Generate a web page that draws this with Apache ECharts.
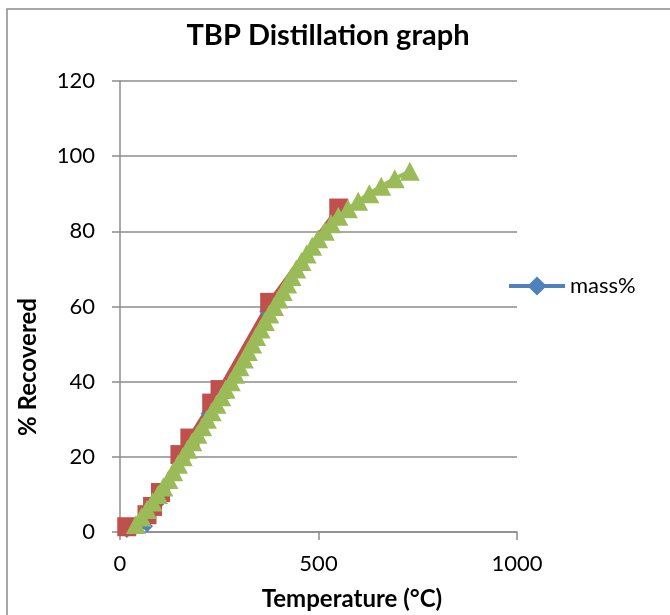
<!DOCTYPE html>
<html>
<head>
<meta charset="utf-8">
<script src="https://cdn.jsdelivr.net/npm/echarts@6/dist/echarts.min.js"></script>
<style>
html,body{margin:0;padding:0;background:#fff;}
#chart{width:670px;height:615px;}
</style>
</head>
<body>
<div id="chart"></div>
<script>
// ---- data ----
const chartTitle = 'TBP Distillation graph';
const xAxisTitle = 'Temperature (°C)';
const yAxisTitle = '% Recovered';
const legendName = 'mass%';

// blue series (mass%), mostly hidden under the others
const massTemp = [17, 68, 82, 102, 151, 176, 218, 252, 366, 551];
const massPct  = [0, 1.5, 5, 8, 18, 22, 31.5, 36, 58.6, 84];

// red squares
const redTemp = [17, 68, 82, 102, 151, 176, 231, 252, 377, 551];
const redPct  = [1.4, 4.6, 6.8, 10.5, 20.6, 25, 34.3, 37.9, 61.1, 86.2];

// green triangles
const greenTemp = [40, 54, 68, 82, 96, 109, 122, 134, 146, 158, 170, 182, 195, 207, 219, 231,
                   243, 255, 266, 279, 290, 301, 312, 322, 333, 343, 354, 365, 376, 388, 399, 410,
                   421, 432, 444, 457, 470, 484, 499, 516, 532, 550, 574, 600, 628, 658, 692, 730];
const greenPct  = [2, 4, 6, 8, 10, 12, 14, 16, 18, 20, 22, 24, 26, 28, 30, 32,
                   34, 36, 38, 40, 42, 44, 46, 48, 50, 52, 54, 56, 58, 60, 62, 64,
                   66, 68, 70, 72, 74, 76, 78, 80, 82, 84, 86, 88, 90, 92, 94, 96];

const xTicks = [0, 500, 1000];
const yTicks = [0, 20, 40, 60, 80, 100, 120];

const zip = (a, b) => a.map((v, i) => [v, b[i]]);

const FONT = 'Lato';
const chart = echarts.init(document.getElementById('chart'));
chart.setOption({
  animation: false,
  backgroundColor: '#fff',
  textStyle: { fontFamily: FONT },
  grid: { left: 120, right: 153, top: 81, bottom: 83, containLabel: false },
  legend: {
    data: [legendName],
    left: 507, top: 275, padding: 0,
    itemWidth: 56, itemHeight: 24,
    lineStyle: { width: 4, color: '#4F81BD' },
    itemStyle: { color: '#4F81BD' },
    textStyle: { fontFamily: FONT, fontSize: 22, color: '#000' }
  },
  xAxis: {
    type: 'value', min: xTicks[0], max: xTicks[xTicks.length-1], interval: 500,
    axisLine: { show: true, lineStyle: { color: '#8c8c8c', width: 1.5 } },
    axisTick: { show: true, length: 8, lineStyle: { color: '#8c8c8c', width: 1.5 } },
    axisLabel: { fontFamily: FONT, fontSize: 22, color: '#000', margin: 21,
                 formatter: v => String(v) },
    splitLine: { show: false }
  },
  yAxis: {
    type: 'value', min: yTicks[0], max: yTicks[yTicks.length-1], interval: 20,
    axisLine: { show: true, lineStyle: { color: '#8c8c8c', width: 1.5 } },
    axisTick: { show: true, length: 8, lineStyle: { color: '#8c8c8c', width: 1.5 } },
    axisLabel: { fontFamily: FONT, fontSize: 22, color: '#000', margin: 25,
                 formatter: v => String(v) },
    splitLine: { show: true, lineStyle: { color: '#8c8c8c', width: 1.5 } }
  },
  graphic: [
    { type: 'rect', silent: true, z: -10,
      shape: { x: 7, y: 9, width: 720, height: 700 },
      style: { fill: 'none', stroke: '#8c8c8c', lineWidth: 1.5 } },
    { type: 'text', x: 328, y: 36,
      style: { text: chartTitle, font: 'bold 29px Lato', fill: '#000', textAlign: 'center', textVerticalAlign: 'middle' } },
    { type: 'text', x: 352, y: 599,
      style: { text: xAxisTitle, font: 'bold 24px Lato', fill: '#000', textAlign: 'center', textVerticalAlign: 'middle' } },
    { type: 'text', x: 28, y: 367, rotation: Math.PI / 2,
      style: { text: yAxisTitle, font: 'bold 24px Lato', fill: '#000', textAlign: 'center', textVerticalAlign: 'middle' } }
  ],
  series: [
    { name: legendName, type: 'line', data: zip(massTemp, massPct),
      symbol: 'diamond', symbolSize: 12, showAllSymbol: true,
      lineStyle: { color: '#4F81BD', width: 4 },
      itemStyle: { color: '#4F81BD' } },
    { name: 'red', type: 'line', data: zip(redTemp, redPct),
      symbol: 'rect', symbolSize: 19, showAllSymbol: true,
      lineStyle: { color: '#C0504D', width: 5 },
      itemStyle: { color: '#C0504D' } },
    { name: 'green', type: 'line', data: zip(greenTemp, greenPct),
      symbol: 'triangle', symbolSize: [20, 19], showAllSymbol: true,
      lineStyle: { color: '#9BBB59', width: 4 },
      itemStyle: { color: '#9BBB59' } }
  ]
});
</script>
</body>
</html>
